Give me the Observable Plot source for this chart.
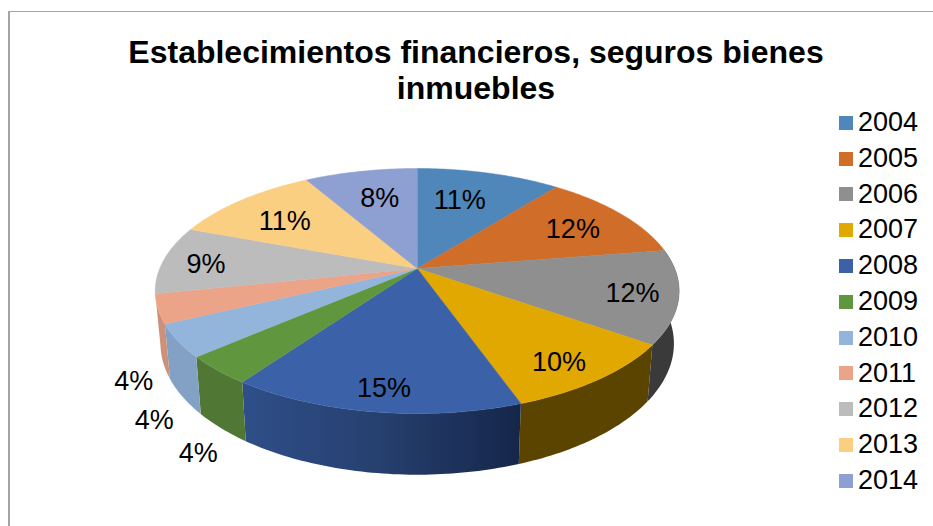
<!DOCTYPE html>
<html lang="es">
<head>
<meta charset="utf-8">
<script src="https://cdn.jsdelivr.net/npm/d3@7"></script>
<script src="https://cdn.jsdelivr.net/npm/@observablehq/plot@0.6"></script>
<style>
html,body{margin:0;padding:0;background:#fff;width:933px;height:526px;overflow:hidden;font-family:"Liberation Sans",Arial,sans-serif;color:#000}
#frame{position:absolute;left:8px;top:11px;right:0;bottom:0;border-left:2px solid #a4a4a4;border-top:1px solid #a4a4a4}
#chart{position:absolute;left:0;top:0}
#chart svg{display:block;background:transparent}
#title{position:absolute;left:100px;width:752px;top:34px;text-align:center;font-weight:bold;font-size:32px;line-height:36px;margin:0}
#legend{position:absolute;left:839px;top:105px;font-size:27px}
#legend div{display:flex;align-items:center;height:35.8px;line-height:35.8px}
#legend i{display:block;width:14px;height:14px;margin-right:5px}
</style>
</head>
<body>
<div id="frame"></div>
<div id="chart"></div>
<h1 id="title">Establecimientos financieros, seguros bienes<br>inmuebles</h1>
<div id="legend"></div>
<script>
const years = ["2004","2005","2006","2007","2008","2009","2010","2011","2012","2013","2014"];
const shares = [10.6,11.9,12.3,9.8,15.2,3.8,4.3,3.8,9.0,11.0,8.3];
const labels = ["11%","12%","12%","10%","15%","4%","4%","4%","9%","11%","8%"];
const topColors = ["#4f87ba","#d06d28","#8f8f8f","#e0a800","#3b62a8","#60973e","#93b5dc","#eba488","#bcbcbc","#fbcf82","#8e9fd1"];
const sideColors = {"2006":"#3a3a3a","2007":"#5a4400","2008":"url(#side2008)","2009":"#507733","2010":"#82a1c4","2011":"#cd917a"};

// perspective disc: a unit circle tilted towards the viewer
const k = 0.1837, RX = 257.5, RY = 118.4, CX = 416.7, CY = 268;
const rad = d => d * Math.PI / 180;
function disc(deg, r = 1) {
  const u = r * Math.sin(rad(deg)), v = -r * Math.cos(rad(deg));
  return {a: u / (1 - k * v), b: v / (1 - k * v), v};
}
const lower = p => ({a: 0.98 * p.a, b: 51 / RY + 1.07 * p.b});

let acc = 0;
const slices = years.map((year, i) => {
  const start = acc / 100 * 360; acc += shares[i];
  return {year, start, end: acc / 100 * 360, share: shares[i], label: labels[i]};
});
function arc(s) {
  const out = [], n = Math.ceil(s.end - s.start);
  for (let j = 0; j <= n; j++) out.push(s.start + (s.end - s.start) * j / n);
  return out;
}
const topPoints = slices.flatMap(s => [
  {year: s.year, a: 0, b: 0},
  ...arc(s).map(d => ({year: s.year, ...disc(d)}))
]);
const sidePieces = slices.filter(s => sideColors[s.year]).map(s => ({
  year: s.year,
  points: [...arc(s).map(d => disc(d)), ...arc(s).reverse().map(d => lower(disc(d)))]
}));
const labelPoints = slices.map(s => {
  const mid = (s.start + s.end) / 2, v = -Math.cos(rad(mid));
  const p = s.share < 5 ? lower(disc(mid, 1.13)) : disc(mid, 0.78 + 0.1 * v);
  return {...p, label: s.label};
});
// small hand placement of each percentage around its slice anchor
const nudgeX = [-9,4,7,-11,4,7,6,6,-15,-3,3];
const nudgeY = [0,2,3,1,-3,8,12,13,3,3,0];

const gradient = () => {
  const defs = d3.create("svg:defs");
  const g = defs.append("linearGradient").attr("id", "side2008");
  g.append("stop").attr("offset", "0%").attr("stop-color", "#2f4f89");
  g.append("stop").attr("offset", "50%").attr("stop-color", "#263f6e");
  g.append("stop").attr("offset", "100%").attr("stop-color", "#15264a");
  return defs.node();
};

const plot = Plot.plot({
  width: 933, height: 526,
  margin: 0,
  style: {background: "transparent"},
  x: {domain: [-1, 1], range: [CX - RX, CX + RX], axis: null},
  y: {domain: [-1, 1], range: [CY - RY, CY + RY], axis: null},
  color: {domain: years, range: topColors},
  marks: [
    gradient,
    ...sidePieces.map(p => Plot.line(p.points, {x: "a", y: "b", fill: sideColors[p.year], stroke: "none", curve: "linear-closed"})),
    Plot.line(topPoints, {x: "a", y: "b", z: "year", fill: "year", stroke: "year", strokeWidth: 0.5, curve: "linear-closed"}),
    ...labelPoints.map((p, i) => Plot.text([p], {x: "a", y: "b", text: "label", dx: nudgeX[i], dy: nudgeY[i], fontSize: 27, fill: "#000", fontFamily: "Liberation Sans, Arial, sans-serif", textAnchor: "middle", lineAnchor: "middle"}))
  ]
});
document.getElementById("chart").append(plot);

const legend = d3.select("#legend");
years.forEach((y, i) => {
  const row = legend.append("div");
  row.append("i").style("background", topColors[i]);
  row.append("span").text(y);
});
</script>
</body>
</html>
